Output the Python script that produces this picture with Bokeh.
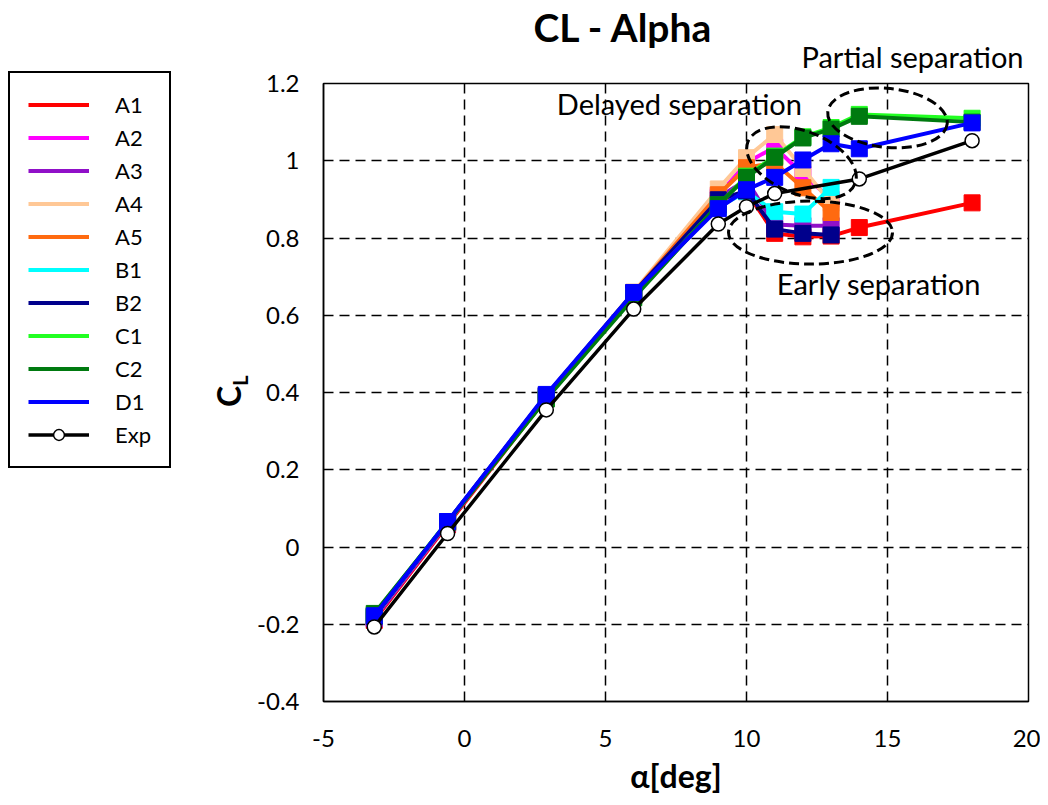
import math
from bokeh.plotting import figure
from bokeh.layouts import row, column
from bokeh.models import Range1d, FixedTicker, Legend, LegendItem, Label, Title
from bokeh.embed import file_html
from bokeh.resources import INLINE

# ---------------- data ----------------
alpha_cfd = [-3.2, -0.6, 2.9, 6.0, 9.0, 10.0, 11.0, 12.0, 13.0]
alpha_ext = [-3.2, -0.6, 2.9, 6.0, 9.0, 10.0, 11.0, 12.0, 13.0, 14.0, 18.0]
alpha_exp = [-3.2, -0.6, 2.9, 6.0, 9.0, 10.0, 11.0, 14.0, 18.0]

cl_A1 = [-0.190, 0.058, 0.386, 0.650, 0.890, 0.920, 0.812, 0.803, 0.805, 0.827, 0.891]
cl_A2 = [-0.185, 0.062, 0.390, 0.655, 0.910, 0.995, 1.035, 0.965, 0.900]
cl_A3 = [-0.185, 0.062, 0.390, 0.655, 0.905, 0.950, 0.835, 0.832, 0.832]
cl_A4 = [-0.180, 0.065, 0.393, 0.660, 0.927, 1.008, 1.068, 0.980, 0.890]
cl_A5 = [-0.180, 0.065, 0.392, 0.658, 0.912, 0.982, 0.995, 0.930, 0.866]
cl_B1 = [-0.180, 0.065, 0.392, 0.658, 0.880, 0.920, 0.868, 0.862, 0.931]
cl_B2 = [-0.180, 0.065, 0.392, 0.658, 0.899, 0.922, 0.823, 0.812, 0.808]
cl_C1 = [-0.175, 0.066, 0.385, 0.648, 0.885, 0.960, 1.012, 1.062, 1.086, 1.120, 1.110]
cl_C2 = [-0.172, 0.064, 0.383, 0.645, 0.886, 0.957, 1.009, 1.059, 1.082, 1.115, 1.100]
cl_D1 = [-0.178, 0.066, 0.395, 0.659, 0.876, 0.925, 0.957, 1.002, 1.044, 1.031, 1.098]
cl_exp = [-0.207, 0.035, 0.355, 0.616, 0.836, 0.881, 0.915, 0.953, 1.052]

series_names = ["A1", "A2", "A3", "A4", "A5", "B1", "B2", "C1", "C2", "D1"]
series_x = [alpha_ext, alpha_cfd, alpha_cfd, alpha_cfd, alpha_cfd, alpha_cfd, alpha_cfd,
            alpha_ext, alpha_ext, alpha_ext]
series_y = [cl_A1, cl_A2, cl_A3, cl_A4, cl_A5, cl_B1, cl_B2, cl_C1, cl_C2, cl_D1]
series_colors = ["#FF0000", "#FF00FF", "#9010C8", "#FFC896", "#FF6A10", "#00FFFF",
                 "#00008C", "#22FF22", "#007A10", "#0000FF"]

x_ticks = [-5, 0, 5, 10, 15, 20]
x_tick_labels = ["-5", "0", "5", "10", "15", "20"]
y_ticks = [-0.4, -0.2, 0.0, 0.2, 0.4, 0.6, 0.8, 1.0, 1.2]
y_tick_labels = ["-0.4", "-0.2", "0", "0.2", "0.4", "0.6", "0.8", "1", "1.2"]

chart_title = "CL - Alpha"
x_title = "α[deg]"
# annotations inside the plot area: (text, alpha, CL)
notes_in = [("Delayed separation", 7.62, 1.148),
            ("Early separation", 14.7, 0.681)]
note_above = "Partial separation"
# dashed ellipses: (alpha, CL, width_px, height_px, angle_rad)
regions = [(11.95, 0.995, 115, 63, -0.37),
           (15.0, 1.111, 120, 59, -0.10),
           (12.27, 0.814, 164, 63, 0.0)]

FONT = "Lato"
TOTAL_H = 802
LEFT_W = 250
MAIN_W = 790

# ---------------- main plot ----------------
p = figure(width=MAIN_W, height=TOTAL_H, title=None, output_backend="svg",
           toolbar_location=None, x_range=Range1d(-5, 20), y_range=Range1d(-0.4, 1.2),
           min_border_left=73, min_border_right=12, min_border_top=83,
           min_border_bottom=101)
p.background_fill_color = "white"
p.border_fill_color = "white"
p.outline_line_color = "black"
p.outline_line_width = 1.5

p.xaxis.ticker = FixedTicker(ticks=x_ticks)
p.yaxis.ticker = FixedTicker(ticks=y_ticks)
p.xaxis.major_label_overrides = {t: l for t, l in zip(x_ticks, x_tick_labels)}
p.yaxis.major_label_overrides = {t: l for t, l in zip(y_ticks, y_tick_labels)}
for ax in (p.xaxis, p.yaxis):
    ax.major_tick_line_color = None
    ax.minor_tick_line_color = None
    ax.major_tick_out = 0
    ax.major_tick_in = 0
    ax.axis_line_color = "black"
    ax.axis_line_width = 1.5
    ax.major_label_text_font = FONT
    ax.major_label_text_font_size = "24px"
    ax.major_label_text_color = "black"
p.xaxis.major_label_standoff = 28
p.yaxis.major_label_standoff = 24
p.xaxis.axis_label = x_title
p.xaxis.axis_label_text_font = FONT
p.xaxis.axis_label_text_font_size = "32px"
p.xaxis.axis_label_text_font_style = "bold"
p.xaxis.axis_label_text_color = "black"
p.xaxis.axis_label_standoff = 6

p.xgrid.ticker = FixedTicker(ticks=[0, 5, 10, 15])
p.ygrid.ticker = FixedTicker(ticks=[-0.2, 0.0, 0.2, 0.4, 0.6, 0.8, 1.0])
for g in (p.xgrid, p.ygrid):
    g.grid_line_color = "black"
    g.grid_line_dash = "10 6"
    g.grid_line_width = 1.5

for name, xs, ys, col in zip(series_names, series_x, series_y, series_colors):
    p.line(xs, ys, line_color=col, line_width=4)
    p.scatter(xs, ys, marker="square", size=16, fill_color=col, line_color=col)

p.line(alpha_exp, cl_exp, line_color="black", line_width=3.5)
p.scatter(alpha_exp, cl_exp, marker="circle", size=14, fill_color="white",
          line_color="black", line_width=1.5)

for ex, ey, ew, eh, ea in regions:
    p.ellipse(x=[ex], y=[ey], width=[ew], height=[eh], width_units="screen",
              height_units="screen", angle=[ea], fill_color=None,
              line_color="black", line_width=3, line_dash="10 5")

for txt, tx, ty in notes_in:
    p.add_layout(Label(x=tx, y=ty, text=txt, text_align="center", text_baseline="middle",
                       text_font=FONT, text_font_size="29px", text_color="black"))

# texts above the plot area (inner panel first, outer panel second)
p.add_layout(Title(text=note_above, align="right", offset=5, vertical_align="bottom",
                   standoff=20, text_font=FONT, text_font_size="29px",
                   text_font_style="normal", text_color="black"), "above")
p.add_layout(Title(text=chart_title, align="left", offset=210, vertical_align="bottom",
                   standoff=-46, text_font=FONT, text_font_size="39px",
                   text_font_style="bold", text_color="black"), "above")

# ---------------- left strip (legend + y title) ----------------
lf = figure(width=LEFT_W, height=TOTAL_H, title=None, output_backend="svg",
            toolbar_location=None, x_range=Range1d(0, LEFT_W),
            y_range=Range1d(TOTAL_H, 0), x_axis_location=None, y_axis_location=None,
            min_border=0, min_border_left=0, min_border_right=0,
            min_border_top=0, min_border_bottom=0)
lf.outline_line_color = None
lf.grid.visible = False

# legend proxies (placed outside the visible strip, only used for the legend swatches)
proxy_x = [-100, -90]
proxy_y = [-100, -100]
items = []
for name, col in zip(series_names, series_colors):
    r = lf.line(proxy_x, proxy_y, line_color=col, line_width=4)
    items.append(LegendItem(label=name, renderers=[r]))
r1 = lf.line(proxy_x, proxy_y, line_color="black", line_width=3.5)
r2 = lf.scatter(proxy_x[:1], proxy_y[:1], marker="circle", size=14, fill_color="white",
                line_color="black", line_width=1.5)
items.append(LegendItem(label="Exp", renderers=[r1, r2]))

legend = Legend(items=items, location=(8, TOTAL_H - 468), label_text_font=FONT,
                label_text_font_size="22px", label_text_color="black",
                glyph_width=61, glyph_height=27, label_height=27, label_standoff=26,
                spacing=6, padding=18, margin=0, border_line_color="black",
                border_line_alpha=1.0, border_line_width=2,
                background_fill_color="white", background_fill_alpha=1.0)
lf.add_layout(legend)

lf.add_layout(Label(x=228, y=396, text="C", angle=math.pi / 2, text_align="center",
                    text_baseline="middle", text_font=FONT, text_font_size="32px",
                    text_font_style="bold", text_color="black"))
lf.add_layout(Label(x=239, y=380, text="L", angle=math.pi / 2, text_align="center",
                    text_baseline="middle", text_font=FONT, text_font_size="20px",
                    text_font_style="bold", text_color="black"))

layout = row(lf, column(p))
open("out.html", "w").write(file_html(layout, INLINE))
